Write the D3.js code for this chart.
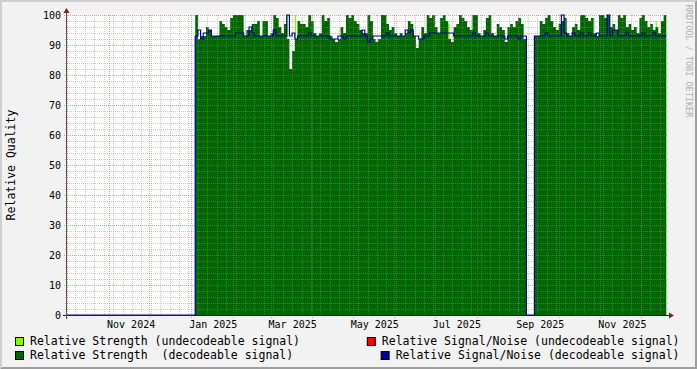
<!DOCTYPE html>
<html>
<head>
<meta charset="utf-8">
<script src="https://cdn.jsdelivr.net/npm/d3@7"></script>
<style>
  body { margin: 0; background: #f2f2f2; }
  svg text { font-family: "DejaVu Sans Mono", monospace; fill: #000; }
</style>
</head>
<body>
<script>
// ---- data (two-day samples starting 2025-01-04) ----
var sampleStart = "2025-01-04";
var stepDays = 2;

// Relative Strength (decodeable signal)
var strengthDecoded = [
  100,92,93,93,96,95,93,93,93,98,
  97,96,95,99,100,100,100,100,93,95,
  95,97,97,98,93,98,98,93,94,100,
  99,96,94,97,92,82,88,92,98,97,
  97,96,100,98,94,93,94,100,98,99,
  93,92,91,92,96,94,100,99,100,98,
  97,95,94,94,100,98,92,91,92,100,
  100,97,95,96,94,93,94,93,94,98,
  97,93,89,92,96,94,100,99,100,96,
  94,99,100,98,92,91,96,97,100,99,
  98,96,95,100,100,94,93,95,99,100,
  94,93,97,96,95,91,96,97,96,98,
  99,97,92,null,null,null,93,93,98,97,
  99,100,98,96,95,97,98,99,94,93,
  96,97,95,100,100,99,98,99,94,93,
  100,100,99,100,96,97,95,100,99,100,
  96,97,95,96,94,99,100,98,96,97,
  95,96,94,98,100
];

// Relative Signal/Noise (decodeable signal)
var snDecoded = [
  93,95,92,94,94,95,93,93,93,93,
  93,93,93,93,93,94,94,94,93,93,
  96,94,93,93,93,93,93,93,93,95,
  93,93,93,93,100,93,94,92,93,93,
  93,93,94,93,93,93,93,93,93,93,
  92,92,92,93,93,92,93,93,93,93,
  93,93,95,93,91,92,93,93,93,93,
  93,94,93,93,93,93,93,93,95,94,
  95,93,93,92,92,93,93,94,94,94,
  94,94,94,94,94,94,93,93,93,93,
  93,93,93,94,93,93,93,93,94,93,
  93,93,93,93,93,92,93,93,93,93,
  92,93,93,null,null,null,93,93,93,93,
  94,93,93,93,93,93,100,94,93,93,
  94,93,93,94,93,93,94,93,93,94,
  93,93,93,100,93,95,95,93,93,93,
  94,93,93,93,93,93,94,93,93,93,
  94,93,93,93,93
];

// Relative Strength (undecodeable signal), one-day samples
var undecodedDates = ["2025-03-13", "2025-03-19", "2025-07-11", "2025-12-12"];
var undecodedStrength = [100, 100, 97, 98];

var yTicks = [0, 10, 20, 30, 40, 50, 60, 70, 80, 90, 100];
var labelMonths = ["2024-11-01", "2025-01-01", "2025-03-01", "2025-05-01",
                   "2025-07-01", "2025-09-01", "2025-11-01"];

var legendItems = [
  {name: "Relative Strength (undecodeable signal)", color: "#80ff00"},
  {name: "Relative Signal/Noise (undecodeable signal)", color: "#ff0000"},
  {name: "Relative Strength  (decodeable signal)", color: "#006600"},
  {name: "Relative Signal/Noise (decodeable signal)", color: "#000099"}
];

// ---- layout ----
var W = 697, H = 369;
var X0 = 67, X1 = 667, Y0 = 315, Y1 = 15;
var parse = d3.utcParse("%Y-%m-%d");
var t0 = new Date(Date.UTC(2024, 8, 30, 18));
var t1 = new Date(Date.UTC(2025, 11, 20, 12));

var x = d3.scaleUtc().domain([t0, t1]).range([X0, X1]);
var y = d3.scaleLinear().domain([0, 100]).range([Y0, Y1]);

var svg = d3.select("body").append("svg")
    .attr("width", W)
    .attr("height", H);

svg.append("rect").attr("width", W).attr("height", H).attr("fill", "#f2f2f2");
svg.append("path").attr("d", "M0,0H697L695,2H2V367L0,369Z").attr("fill", "#cfcfcf");
svg.append("path").attr("d", "M697,0V369H0L2,367H695V2Z").attr("fill", "#9e9e9e");

svg.append("rect")
   .attr("x", X0).attr("y", Y1)
   .attr("width", X1 - X0).attr("height", Y0 - Y1)
   .attr("fill", "#fff");

var start = parse(sampleStart);
function sampleDate(i) { return d3.utcDay.offset(start, i * stepDays); }

// step points: two per sample
function stepPoints(values, nullAsZero) {
  var pts = [];
  values.forEach(function (v, i) {
    if (v == null && nullAsZero) v = 0;
    pts.push({t: sampleDate(i), v: v});
    pts.push({t: sampleDate(i + 1), v: v});
  });
  return pts;
}

// undecodeable strength (drawn first, under the decodeable area)
svg.append("g").selectAll("rect")
   .data(undecodedDates.map(function (d, i) { return {t: parse(d), v: undecodedStrength[i]}; }))
   .enter().append("rect")
   .attr("x", function (d) { return x(d.t); })
   .attr("width", function (d) { return x(d3.utcDay.offset(d.t, 1)) - x(d.t); })
   .attr("y", function (d) { return y(d.v); })
   .attr("height", function (d) { return y(0) - y(d.v); })
   .attr("fill", "#80ff00");

var area = d3.area()
    .defined(function (d) { return d.v != null; })
    .x(function (d) { return x(d.t); })
    .y0(y(0))
    .y1(function (d) { return y(d.v); });

svg.append("path")
   .datum(stepPoints(strengthDecoded, false))
   .attr("d", area)
   .attr("fill", "#006600");

// ---- grid ----
var grid = svg.append("g").attr("fill", "none").attr("stroke-dasharray", "1,1");
var minorCol = "rgba(143,143,143,0.45)";
var majorCol = "rgba(222,79,79,0.55)";

grid.selectAll(".hmin")
    .data(d3.range(0, 101, 2).filter(function (v) { return v % 10 !== 0; }))
    .enter().append("line")
    .attr("x1", X0 - 2).attr("x2", X1 + 1)
    .attr("y1", function (d) { return y(d) + 0.5; })
    .attr("y2", function (d) { return y(d) + 0.5; })
    .attr("stroke", minorCol);

grid.selectAll(".vmin")
    .data(d3.utcMonday.range(t0, t1))
    .enter().append("line")
    .attr("x1", function (d) { return Math.round(x(d)) + 0.5; })
    .attr("x2", function (d) { return Math.round(x(d)) + 0.5; })
    .attr("y1", Y1).attr("y2", Y0 + 2)
    .attr("stroke", minorCol);

grid.selectAll(".hmaj")
    .data(yTicks)
    .enter().append("line")
    .attr("x1", X0 - 3).attr("x2", X1 + 1)
    .attr("y1", function (d) { return y(d) + 0.5; })
    .attr("y2", function (d) { return y(d) + 0.5; })
    .attr("stroke", majorCol);

grid.selectAll(".vmaj")
    .data(d3.utcMonth.range(t0, t1))
    .enter().append("line")
    .attr("x1", function (d) { return Math.round(x(d)) + 0.5; })
    .attr("x2", function (d) { return Math.round(x(d)) + 0.5; })
    .attr("y1", Y1).attr("y2", Y0 + 3)
    .attr("stroke", majorCol);

// ---- S/N line (missing treated as 0) ----
var snPts = [{t: t0, v: 0}, {t: start, v: 0}].concat(stepPoints(snDecoded, true));
svg.append("path")
   .datum(snPts)
   .attr("d", d3.line().x(function (d) { return x(d.t); }).y(function (d) { return y(d.v); }))
   .attr("fill", "none")
   .attr("stroke", "#000099")
   .attr("stroke-width", 1.2);

// ---- axes ----
svg.append("line")
   .attr("x1", X0 - 4).attr("x2", X1 + 4)
   .attr("y1", Y0 + 0.5).attr("y2", Y0 + 0.5)
   .attr("stroke", "#1f1f1f");
svg.append("line")
   .attr("x1", X0 - 0.5).attr("x2", X0 - 0.5)
   .attr("y1", Y0 + 4).attr("y2", Y1 - 4)
   .attr("stroke", "#555");
svg.append("path")
   .attr("d", "M" + (X1 + 2) + "," + (Y0 - 2.5) + "L" + (X1 + 7) + "," + (Y0 + 0.5) +
              "L" + (X1 + 2) + "," + (Y0 + 3.5) + "Z")
   .attr("fill", "#801f1f");
svg.append("path")
   .attr("d", "M" + (X0 - 3.5) + "," + (Y1 - 2) + "L" + (X0 - 0.5) + "," + (Y1 - 7) +
              "L" + (X0 + 2.5) + "," + (Y1 - 2) + "Z")
   .attr("fill", "#801f1f");

var xAxis = d3.axisBottom(x)
    .tickValues(labelMonths.map(function (m) { return d3.utcDay.offset(parse(m), 16); }))
    .tickFormat(d3.utcFormat("%b %Y"))
    .tickSize(0)
    .tickPadding(3);
var gx = svg.append("g").attr("transform", "translate(0," + (Y0 + 3) + ")").call(xAxis);
gx.select(".domain").remove();
gx.selectAll("text").attr("font-size", 10).attr("font-family", "DejaVu Sans Mono");

var yAxis = d3.axisLeft(y).tickValues(yTicks).tickSize(0).tickPadding(6);
var gy = svg.append("g").attr("transform", "translate(" + X0 + ",0)").call(yAxis);
gy.select(".domain").remove();
gy.selectAll("text").attr("font-size", 10).attr("font-family", "DejaVu Sans Mono");

svg.append("text")
   .attr("transform", "translate(15," + ((Y0 + Y1) / 2) + ") rotate(-90)")
   .attr("text-anchor", "middle")
   .attr("font-size", 11.5)
   .text("Relative Quality");

svg.append("text")
   .attr("transform", "translate(686,61) rotate(90)")
   .attr("text-anchor", "middle")
   .attr("font-size", 8.5)
   .style("fill", "#b0b0b0")
   .text("RRDTOOL / TOBI OETIKER");

// ---- legend ----
var rowY = [345, 359];
legendItems.forEach(function (d, i) {
  var row = Math.floor(i / 2), col = i % 2;
  var t = svg.append("text")
     .attr("y", rowY[row])
     .attr("font-size", 11.5)
     .attr("xml:space", "preserve")
     .style("white-space", "pre")
     .text(d.name);
  var tx;
  if (col === 0) {
    tx = 30;
  } else {
    tx = 679.5 - t.node().getComputedTextLength();
  }
  t.attr("x", tx);
  svg.append("rect")
     .attr("x", tx - 14.5).attr("y", rowY[row] - 7.5)
     .attr("width", 8).attr("height", 8)
     .attr("fill", d.color)
     .attr("stroke", "#000");
});
</script>
</body>
</html>
